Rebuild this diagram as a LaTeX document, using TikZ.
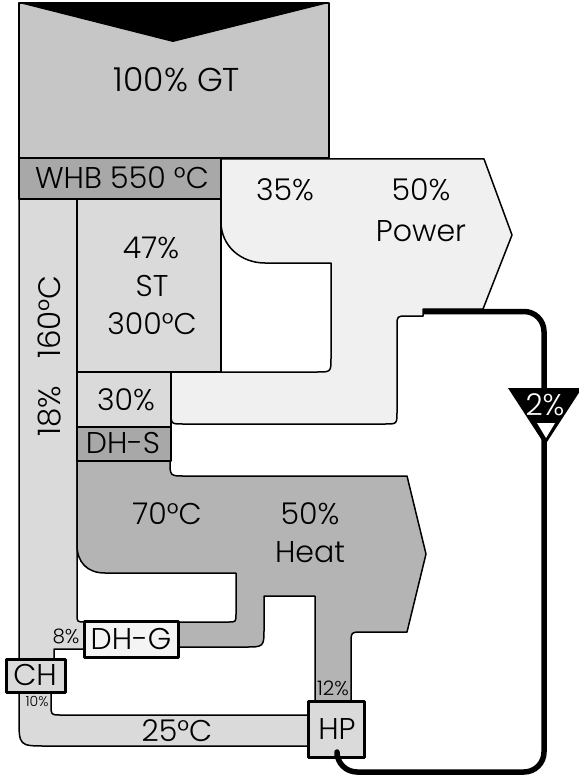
\documentclass[tikz,border=0pt]{standalone}
\usepackage{fontspec}
\setmainfont{Poppins}[UprightFont=* Light]
\begin{document}
\begin{tikzpicture}[x=1pt,y=-1pt,line join=round,
  outl/.style={draw=black,line width=1.5pt},
  boxthick/.style={draw=black,line width=3pt},
  big/.style={font=\fontsize{33}{35}\selectfont,inner sep=0pt},
  mid/.style={font=\fontsize{30}{32}\selectfont,inner sep=0pt},
  small/.style={font=\fontsize{20}{21}\selectfont,inner sep=0pt},
  tiny/.style={font=\fontsize{14}{15}\selectfont,inner sep=0pt}]
\definecolor{gtcol}{HTML}{C6C6C6}
\definecolor{whbcol}{HTML}{A8A8A8}
\definecolor{lightcol}{HTML}{DADADA}
\definecolor{powcol}{HTML}{F0F0F0}
\definecolor{heatcol}{HTML}{B4B4B4}
\definecolor{dhgcol}{HTML}{F4F4F4}
\useasboundingbox[fill=white] (0,0) rectangle (578,778);
% GT block
\path[outl,fill=gtcol] (19,3) rectangle (329,158);
\fill[black] (19,3) -- (329,3) -- (173,42) -- cycle;
% light 18% strip
\path[outl,fill=lightcol] (19,199) -- (77,199) -- (77,614) .. controls (77,622) .. (85,622) -- (85,649) -- (54,649) -- (54,659) -- (19,659) -- cycle;
% WHB
\path[outl,fill=whbcol] (19,158) rectangle (221,199);
% ST
\path[outl,fill=lightcol] (77,199) rectangle (221,372);
% 30% and DH-S
\path[outl,fill=lightcol] (77,372) rectangle (171,427);
\path[outl,fill=whbcol] (77,427) rectangle (171,461);
% power
\path[outl,fill=powcol] (221,159) -- (484,159) -- (512,235) -- (483,309) -- (423,309) -- (423,316) -- (407,316) .. controls (397,316) .. (397,326) -- (397,412) .. controls (397,424) .. (385,424) -- (183,424) .. controls (171,424) .. (171,412) -- (171,372) -- (317,372) .. controls (331,372) .. (331,358) -- (331,263) -- (265,263) .. controls (241,263) and (221,246) .. (221,222) -- cycle;
% heat
\path[outl,fill=heatcol] (77,461) -- (170,461) .. controls (170,476) .. (185,476) -- (407,476) -- (426,554) -- (407,632) -- (363,632) .. controls (351,632) .. (351,644) -- (351,701) -- (315,701) -- (315,596) -- (264,596) -- (264,628) .. controls (264,647) .. (245,647) -- (178,647) -- (178,622) -- (228,622) .. controls (236,622) .. (236,614) -- (236,573) -- (105,573) .. controls (87,573) and (77,562) .. (77,545) -- cycle;
% bottom strip
\path[outl,fill=lightcol] (19,692) -- (51,692) -- (51,705) .. controls (51,715) .. (61,715) -- (308,715) -- (308,746) -- (47,746) .. controls (19,746) .. (19,718) -- cycle;
% boxes
\path[boxthick,fill=dhgcol] (84,621) rectangle (178,657);
\path[boxthick,fill=lightcol] (6,659) rectangle (65,692);
\path[boxthick,fill=lightcol] (308,701) rectangle (364,757);
% loss loop
\coordinate (ls) at (423,311.5);
\draw[line width=5.5pt,rounded corners=20pt] (ls) -- (544,311.5) -- (544,772) -- (337,772) -- (337,757);
\fill[black] (508,388) -- (582,388) -- (545,445) -- cycle;
\fill[white] (537,423) -- (555,423) -- (546,438) -- cycle;
% texts
\node[big] (tgt) at (177,80) {100\% GT};
\node[mid] (twhb) at (122,178) {WHB 550 °C};
\node[mid] (t35) at (285,190) {35\%};
\node[mid] (t50p) at (421,190) {50\%};
\node[mid] (tpow) at (421,231) {Power};
\node[mid] (t47) at (151,248) {47\%};
\node[mid] (tst) at (152,286) {ST};
\node[mid] (t300) at (152,324) {300°C};
\node[mid,font=\fontsize{31}{33}\selectfont,rotate=90] (t18) at (49,356) {18\%\hspace{27pt}160°C};
\node[mid] (t30) at (126,400) {30\%};
\node[mid] (tdhs) at (123,443) {DH-S};
\node[mid] (t70) at (167,514) {70°C};
\node[mid] (t50h) at (310,514) {50\%};
\node[mid] (theat) at (310,552) {Heat};
\node[small] (t8) at (66,636) {8\%};
\node[mid] (tdhg) at (131,639) {DH-G};
\node[mid] (tch) at (35,675) {CH};
\node[tiny] (t10) at (37,701) {10\%};
\node[mid] (t25) at (177,731) {25°C};
\node[small] (t12) at (333,688) {12\%};
\node[mid] (thp) at (337,729) {HP};
\node[mid,text=white] (t2) at (545,405) {2\%};
\end{tikzpicture}
\end{document}
